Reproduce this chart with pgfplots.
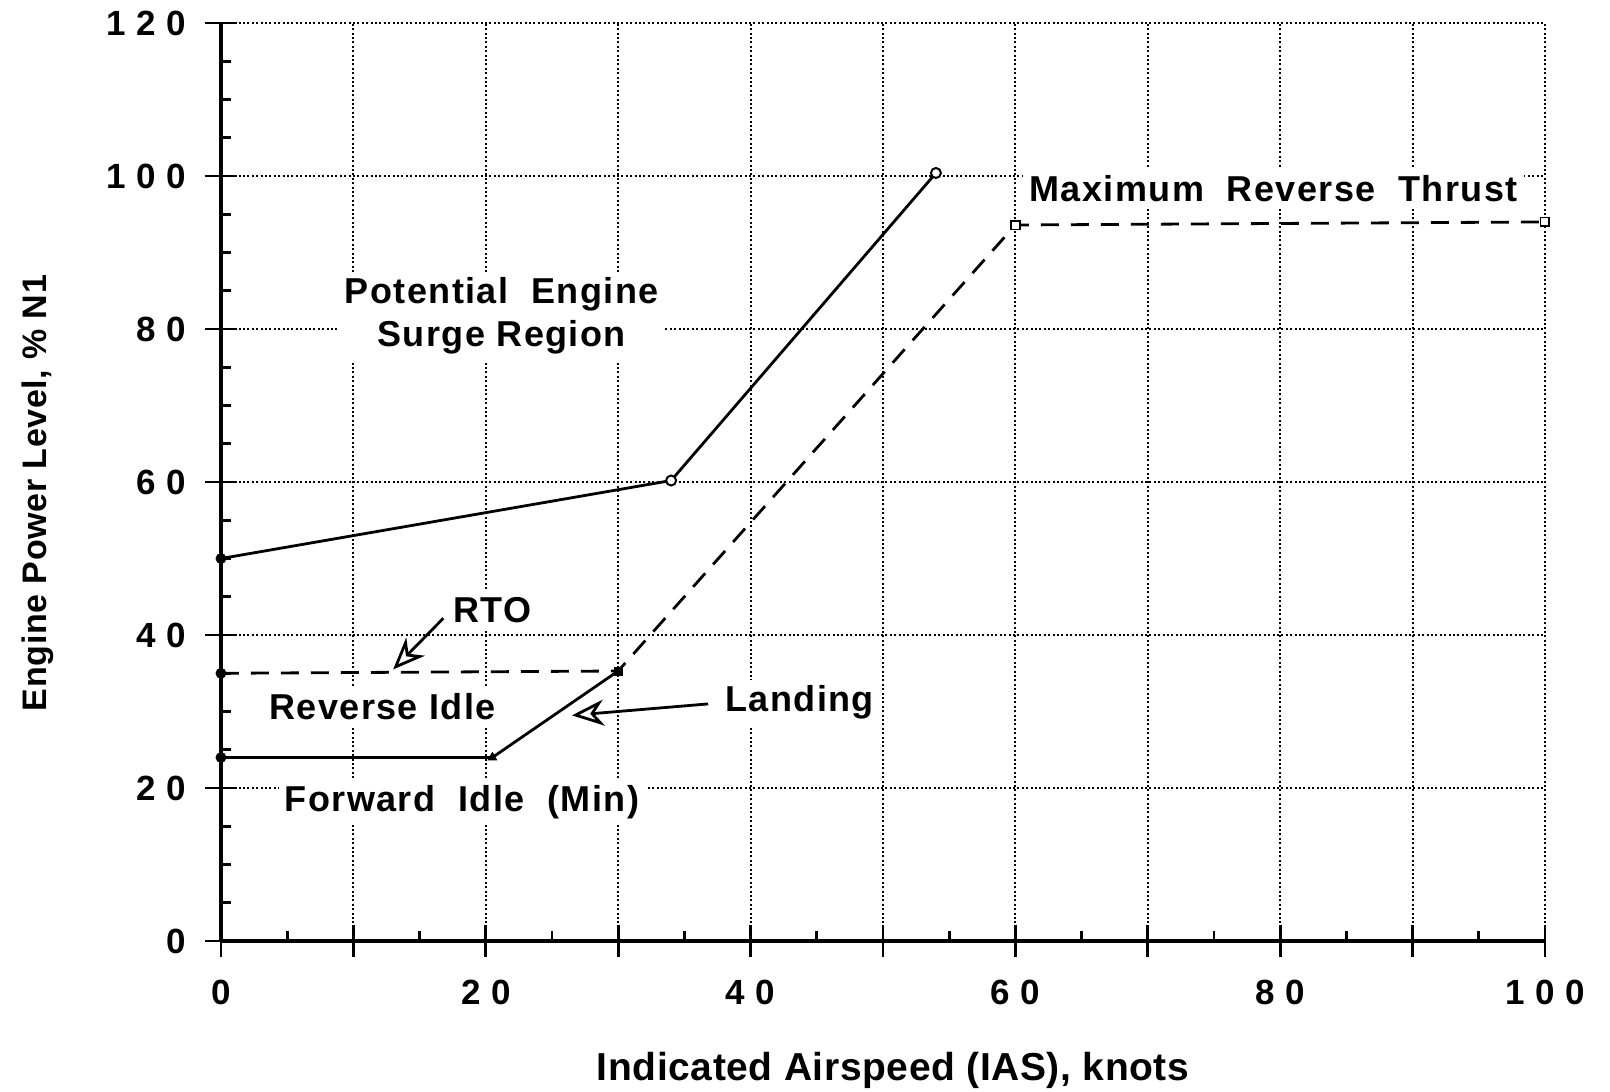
\documentclass[border=0pt]{standalone}
\usepackage{pgfplots}
\pgfplotsset{compat=1.18}
\usepackage{fontspec}
\setmainfont{Liberation Sans}
\newfontfamily\lblfont{Liberation Sans}[LetterSpace=4]
\newfontfamily\xlfont{Liberation Sans}[LetterSpace=1.5]
\newfontfamily\ylfont{Liberation Sans}[LetterSpace=2]
\usetikzlibrary{arrows.meta}
\newcommand{\g}{\hspace{0.3em}}

\begin{document}
\begin{tikzpicture}
\begin{axis}[
  name=ax,
  width=662pt, height=459pt, scale only axis,
  xmin=0, xmax=100, ymin=0, ymax=120,
  axis x line=bottom, axis y line=left,
  axis line style={line width=2.4pt, -},
  xtick={0,10,...,100},
  xticklabels={0,,2\g0,,4\g0,,6\g0,,8\g0,,1\g0\g0},
  ytick={0,20,...,120},
  yticklabels={0,2\g0,4\g0,6\g0,8\g0,1\g0\g0,1\g2\g0},
  minor x tick num=1, minor y tick num=3,
  tick align=inside,
  major tick length=8pt, minor tick length=5pt,
  extra x ticks={0,10,...,100}, extra y ticks={0,20,...,120},
  extra x tick labels={}, extra y tick labels={},
  extra tick style={tick align=outside, major tick length=8pt, grid=none},
  every tick/.style={black, line width=1.4pt},
  ticklabel style={font=\fontsize{17.5}{19}\selectfont\bfseries},
  xticklabel style={yshift=-16pt},
  yticklabel style={xshift=-14pt},
  grid=major,
  major grid style={black, line width=1pt, dash pattern=on 1pt off 1.2pt},
  xlabel={Indicated Airspeed (IAS), knots},
  ylabel={Engine Power Level, \% N1},
  xlabel style={font=\fontsize{19.5}{21}\selectfont\xlfont\bfseries, at={(rel axis cs:0.5076,-0.1405)}, anchor=center},
  ylabel style={font=\fontsize{17}{19}\selectfont\ylfont\bfseries, at={(rel axis cs:-0.1382,0.488)}, anchor=center, rotate=0},
  clip=false,
]
\addplot[black, line width=1.4pt] coordinates {(0,50) (34,60.2) (54,100.4)};
\addplot[black, line width=1.4pt, dash pattern=on 9pt off 6pt] coordinates {(0,35) (30,35.3) (60,93.6) (100,94)};
\addplot[black, line width=1.4pt] coordinates {(0,24) (20.5,24) (30,35.3)};
\addplot[only marks, mark=*, mark options={fill=white, line width=1pt}, mark size=2.5pt] coordinates {(34,60.2) (54,100.4)};
\addplot[only marks, mark=square*, mark options={fill=white, line width=0.9pt}, mark size=2.2pt] coordinates {(60,93.6) (100,94)};
\addplot[only marks, mark=square*, mark size=2pt] coordinates {(30,35.3)};
\addplot[only marks, mark=*, mark size=2.5pt] coordinates {(0,50) (0,35) (0,24)};
\addplot[only marks, mark=triangle*, mark size=2.5pt] coordinates {(20.5,24)};

\tikzset{lbl/.style={fill=white, inner sep=3pt, align=center, font=\fontsize{18}{21.5}\selectfont\lblfont\bfseries}}
\node[lbl] at (axis cs:21.2,81.7) {Potential\ \ Engine\\Surge Region};
\node[lbl] at (axis cs:79.5,98.4) {Maximum\ \ Reverse\ \ Thrust};
\node[lbl] at (axis cs:20.5,43.3) {RTO};
\node[lbl] at (axis cs:12.2,30.6) {Reverse Idle};
\node[lbl] at (axis cs:43.7,31.2) {Landing};
\node[lbl] at (axis cs:18.2,18.1) {Forward\ \ Idle\ \ (Min)};
\draw[line width=1.4pt, -{Stealth[open, length=16pt, width=13pt, inset=5pt]}] (axis cs:16.8,42.2) -- (axis cs:13,35.5);
\draw[line width=1.4pt, -{Stealth[open, length=16pt, width=13pt, inset=5pt]}] (axis cs:36.8,31) -- (axis cs:26.5,29.5);

\coordinate (bbl) at (rel axis cs:-0.1669,-0.1634);
\coordinate (btr) at (rel axis cs:1.0491,1.0251);
\end{axis}
\pgfresetboundingbox
\path[use as bounding box] (bbl) rectangle (btr);
\end{tikzpicture}
\end{document}
